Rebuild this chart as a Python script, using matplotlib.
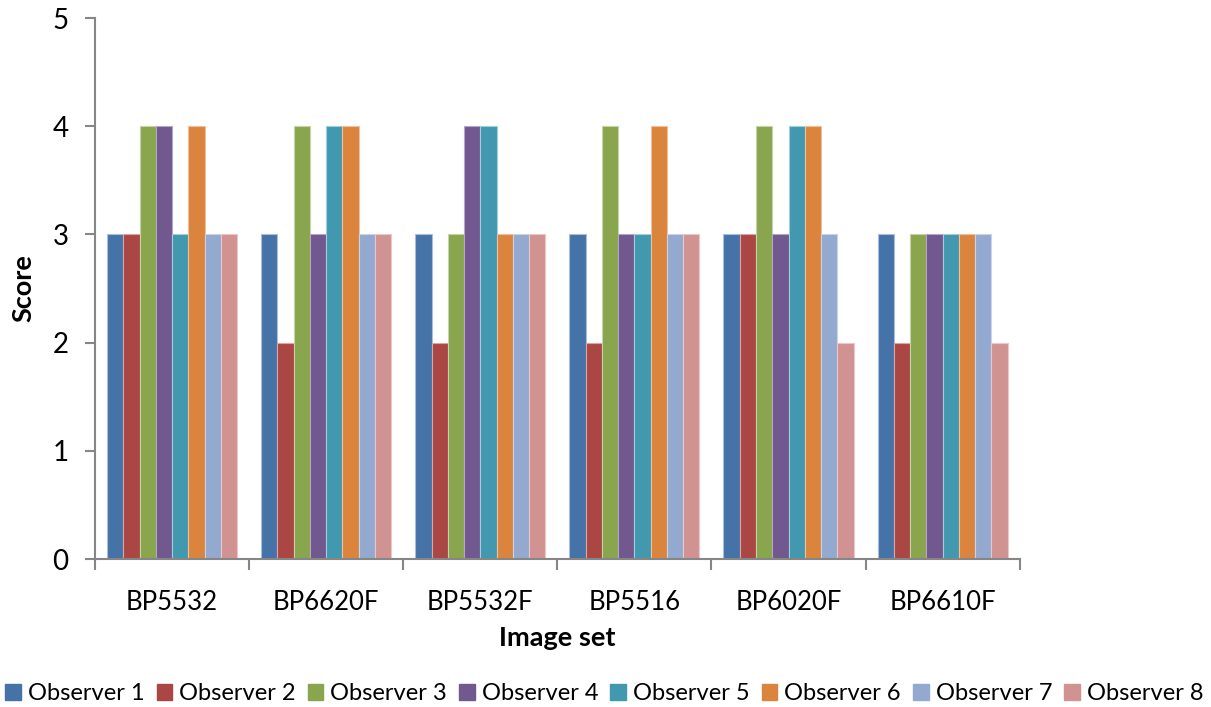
import numpy as np
import matplotlib.pyplot as plt
from matplotlib.patches import Patch

plt.rcParams['font.family'] = ['Lato', 'DejaVu Sans']

image_sets = ["BP5532", "BP6620F", "BP5532F", "BP5516", "BP6020F", "BP6610F"]
observers = ["Observer %d" % i for i in range(1, 9)]
scores = [
    [3, 3, 3, 3, 3, 3],  # Observer 1
    [3, 2, 2, 2, 3, 2],  # Observer 2
    [4, 4, 3, 4, 4, 3],  # Observer 3
    [4, 3, 4, 3, 3, 3],  # Observer 4
    [3, 4, 4, 3, 4, 3],  # Observer 5
    [4, 4, 3, 4, 4, 3],  # Observer 6
    [3, 3, 3, 3, 3, 3],  # Observer 7
    [3, 3, 3, 3, 2, 2],  # Observer 8
]
colors = ["#4572A7", "#AA4643", "#89A54E", "#71588F",
          "#4198AF", "#DB843D", "#93A9CF", "#D19392"]
edges = ["#A9BEDA", "#D9A6A4", "#C4D4A8", "#B4A5C6",
         "#A3CDD8", "#EDC1A0", "#C9D4E7", "#E8C9C8"]

fig = plt.figure(figsize=(12.11, 7.07), dpi=100)
ax = fig.add_axes([0.0785, 0.2093, 0.7635, 0.7652])

x = np.arange(len(image_sets))
w = 0.1055
for i, (s, c, e) in enumerate(zip(scores, colors, edges)):
    ax.bar(x + (i - 3.5) * w, s, width=w, color=c, edgecolor=e,
           linewidth=0.8, label=observers[i])

ax.set_xlim(-0.5, len(image_sets) - 0.5)
ax.set_ylim(0, 5)
ax.set_yticks(range(6))
ax.tick_params(axis="y", labelsize=20, length=7, width=1.5,
               color="#868686", pad=12)
ax.set_xticks(x)
ax.set_xticklabels(image_sets)
ax.tick_params(axis="x", length=0, labelsize=18.5, pad=22)
ax.set_xticks(np.arange(-0.5, len(image_sets)), minor=True)
ax.tick_params(axis="x", which="minor", length=8, width=1.5, color="#868686")

for side in ["top", "right"]:
    ax.spines[side].set_visible(False)
for side in ["left", "bottom"]:
    ax.spines[side].set_color("#868686")
    ax.spines[side].set_linewidth(1.5)

ax.set_xlabel("Image set", fontsize=19.5, fontweight="bold", labelpad=8)
ax.set_ylabel("Score", fontsize=19.5, fontweight="bold", labelpad=12)

handles = [Patch(facecolor=c, edgecolor=c, label=o) for c, o in zip(colors, observers)]
fig.legend(handles=handles, loc="center", bbox_to_anchor=(0.499, 0.019),
           ncol=8, frameon=False, fontsize=17, handlelength=0.65,
           handleheight=0.65, handletextpad=0.3, columnspacing=0.52)

fig.savefig("out.png", dpi=100)
